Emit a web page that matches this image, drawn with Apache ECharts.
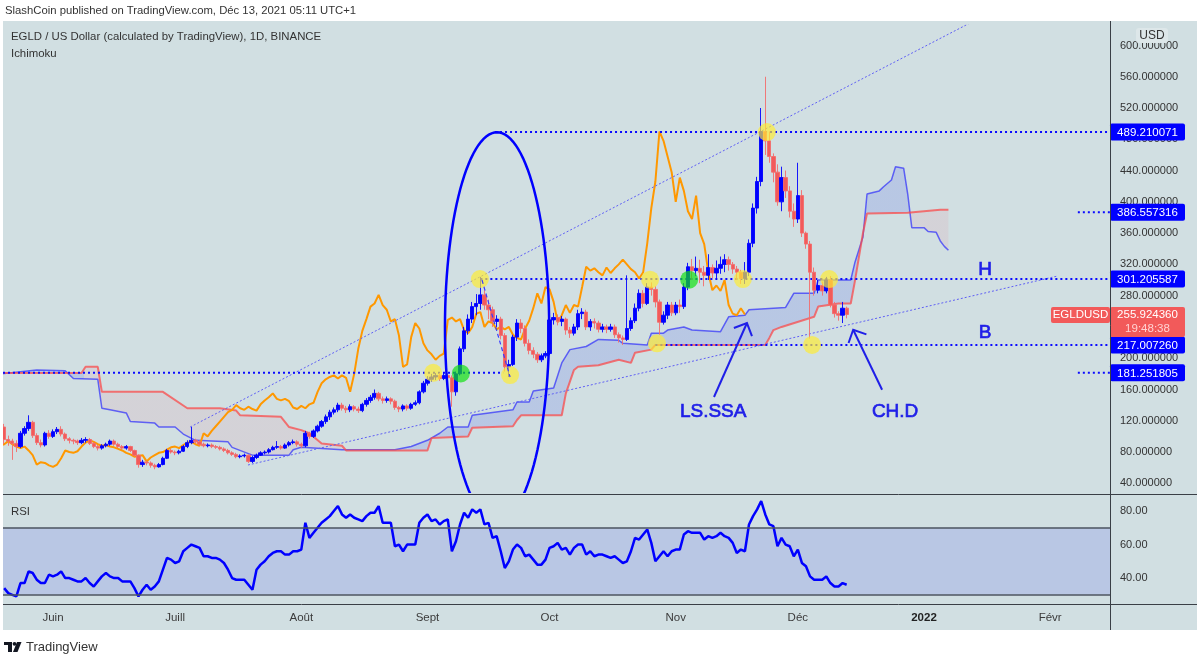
<!DOCTYPE html>
<html>
<head>
<meta charset="utf-8">
<title>EGLD / US Dollar - 1D</title>
<script src="https://cdn.jsdelivr.net/npm/echarts@6.0.0/dist/echarts.min.js"></script>
<style>
  html, body { margin: 0; padding: 0; background: #fff; }
  #chart { width: 1200px; height: 658px; }
</style>
</head>
<body>
<div id="chart"></div>
<script>
// day index: 0 = 1 June 2021, first candle is 20 May 2021
const firstDay = -12;

// daily candles [open, close, low, high]
const candles = [
  [112,96,90,116],[96,94,88,101],[94,91,70,97],[91,87,80,95],[87,104,85,107],[104,110,101,113],[110,118,107,127],[118,101,98,120],[101,92,89,104],[92,89,86,96],
  [89,104,87,106],[104,100,97,108],[100,106,98,109],[106,109,103,112],[109,103,100,113],[103,97,94,105],[97,95,91,99],[95,94,90,97],[94,92,89,96],[92,95,90,98],
  [95,96,92,99],[96,91,89,98],[91,87,85,93],[87,85,82,89],[85,88,83,90],[88,90,86,92],[90,94,88,96],[94,90,88,96],[90,87,85,92],[87,85,83,89],
  [85,87,83,89],[87,82,80,88],[82,76,74,83],[76,64,60,77],[64,67,61,70],[67,66,63,69],[66,63,60,68],[63,61,58,65],[61,64,60,66],[64,72,63,74],
  [72,82,71,84],[82,80,78,84],[80,79,76,82],[79,81,77,83],[81,87,80,89],[87,92,85,95],[92,95,90,112],[95,93,91,97],[93,90,88,95],[90,88,86,92],
  [88,89,86,91],[89,87,85,91],[87,86,84,89],[86,84,82,88],[84,82,80,86],[82,79,77,84],[79,77,75,81],[77,74,72,79],[74,75,72,77],[75,76,73,78],
  [76,68,66,77],[68,73,66,75],[73,76,71,78],[76,79,75,81],[79,80,77,82],[80,83,78,85],[83,86,82,88],[86,87,84,94],[87,85,83,89],[85,89,84,91],
  [89,92,87,94],[92,93,90,96],[93,90,87,95],[90,88,85,92],[88,104,86,107],[104,100,97,106],[100,107,98,109],[107,113,105,115],[113,119,111,121],[119,125,116,128],
  [125,131,121,134],[131,134,128,137],[134,140,131,143],[140,136,133,143],[136,134,130,139],[134,138,131,141],[138,135,132,140],[135,133,130,138],[133,141,131,143],[141,146,138,149],
  [146,150,143,153],[150,155,147,160],[155,148,145,157],[148,146,142,151],[146,148,143,151],[148,145,141,150],[145,137,134,147],[137,135,131,139],[135,139,132,141],[139,136,133,141],
  [136,141,134,143],[141,143,139,146],[143,157,141,159],[157,168,155,171],[168,173,165,177],[173,176,170,180],[176,178,172,181],[178,174,171,181],[174,178,172,182],[178,175,172,181],
  [175,157,138,178],[157,180,152,183],[180,212,178,215],[212,235,208,240],[235,250,230,256],[250,266,245,272],[266,270,255,282],[270,281,262,304],[281,268,262,287],[268,262,250,275],
  [262,247,240,266],[247,250,240,255],[250,229,224,253],[229,189,183,232],[189,192,176,198],[192,227,190,230],[227,245,222,250],[245,238,232,250],[238,219,215,242],[219,210,205,224],
  [210,205,200,214],[205,198,194,208],[198,203,195,206],[203,206,200,209],[206,249,204,253],[249,252,243,258],[252,247,242,256],[247,250,241,254],[250,236,230,252],[236,232,226,240],
  [232,240,229,244],[240,257,236,262],[257,259,250,264],[259,240,236,262],[240,247,235,250],[247,245,238,251],[245,237,233,248],[237,240,233,244],[240,237,232,243],[237,240,234,244],
  [240,230,226,243],[230,226,220,233],[226,224,217,229],[224,238,222,306],[238,248,235,252],[248,264,245,270],[264,283,260,288],[283,270,265,287],[270,291,268,296],[291,288,280,297],
  [288,272,265,292],[272,246,230,275],[246,255,243,260],[255,268,250,272],[268,258,254,272],[258,268,255,272],[268,266,258,275],[266,291,263,296],[291,317,287,322],[317,312,300,327],
  [312,315,305,330],[315,310,296,326],[310,306,292,318],[306,316,300,333],[316,309,302,320],[309,315,300,325],[315,320,308,330],[320,326,310,333],[326,320,312,330],[320,314,308,323],
  [314,310,300,318],[310,302,295,313],[302,310,295,323],[310,347,305,352],[347,392,342,398],[392,426,385,432],[426,490,420,520],[490,478,460,560],[478,458,450,490],[458,438,425,462],
  [438,400,395,448],[400,431,388,445],[431,414,405,440],[414,388,380,420],[388,378,368,398],[378,408,373,450],[408,360,355,415],[360,346,340,362],[346,310,225,350],[310,287,280,316],
  [287,293,283,300],[293,286,280,298],[286,300,283,304],[300,268,265,305],[268,257,252,272],[257,255,248,260],[255,264,245,272],[264,255.92436,251,266]
];

// RSI, one value per candle
const rsi = [
  34,31,30,29,37,37,44,43,39,37, 37,42,41,42,44,40,40,39,38,38,
  40,37,35,38,41,43,41,40,40,38, 38,38,34,29,33,36,33,35,38,45,
  52,51,49,50,56,58,60,59,58,53, 53,52,52,51,49,45,40,39,39,39,
  36,33,45,48,50,53,55,56,56,54, 54,56,56,57,73,64,67,70,73,75,
  77,80,83,78,76,78,76,75,74,77, 79,79,83,73,73,73,59,60,56,60,
  60,60,73,76,78,74,75,72,74,75, 56,62,72,79,76,81,79,81,72,73,
  64,65,56,46,50,57,60,58,53,54, 51,48,48,51,58,59,61,57,58,54,
  58,60,60,54,56,53,54,54,53,52, 53,51,49,50,56,64,63,66,69,61,
  50,53,56,53,56,57,57,66,68,67, 67,67,63,65,64,65,67,65,64,61,
  55,57,56,72,77,81,86,78,72,71, 59,64,60,59,53,57,49,47,41,39,
  39,39,41,37,35,35,37,36
];

// Ichimoku leading spans as drawn (already pushed 25 bars ahead), [day, price]
const senkouA = [
  [-13,180],[-4,185],[3,184],[5,174],[11,173],[12,136],[14,134],[18,130],[19,119],[25,117],[26,112],[30,112],
  [32,103],[35,95],[43,93],[44,86],[48,78],[49,76],[58,76],[59,83],[61,86],[68,84],[71,83],[84,83],[88,87],
  [92,95],[95,104],[97,112],[102,112],[103,127],[113,134],[114,144],[117,144],[118,158],[123,162],[125,194],
  [127,211],[131,215],[134,224],[139,223],[140,219],[146,217],[147,232],[150,232],[151,236],[155,240],[157,236],
  [164,234],[166,253],[170,255],[171,262],[180,265],[181,274],[182,283],[187,283],[188,300],[196,300],[197,322],
  [199,355],[200,410],[203,414],[204,419],[206,428],[207,445],[209,443],[210,410],[211,367],[214,367],[215,362],
  [217,361],[218,350],[219,343],[220,338]
];
const senkouB = [
  [-13,181],[7,181],[8,189],[11,189],[12,157],[27,157],[33,136],[41,136],[45,133],[46,127],[56,125],[58,112],
  [61,108],[63,104],[66,91],[71,88],[72,82],[92,82],[93,98],[102,100],[103,111],[113,113],[114,121],[115,127],
  [125,127],[126,155],[128,185],[129,189],[134,191],[139,198],[142,194],[143,207],[147,211],[148,217],[175,217],
  [176,226],[177,236],[179,240],[187,253],[188,266],[193,270],[196,270],[197,298],[199,360],[200,385],[210,386],
  [214,388],[218,390],[220,390]
];
const lagShift = 25;                        // lagging span = close drawn 25 bars back
const cloudUpRanges = [[-11, 7.5], [71.8, 210.5]];  // where span A is above span B

const monthDays = [0, 30, 61, 92, 122, 153, 183, 214, 245];
const monthNames = ['Juin', 'Juill', 'Août', 'Sept', 'Oct', 'Nov', 'Déc', '2022', 'Févr'];
const priceTicks = [40, 80, 120, 160, 200, 240, 280, 320, 360, 400, 440, 480, 520, 560, 600];
const rsiTicks = [40, 60, 80];

// horizontal levels drawn on the chart and the day where each dotted line starts (null = price scale)
const levelPrices = [489.210071, 386.557316, 301.205587, 217.007260, 181.251805];
const levelSpans = [[[108.6, null]], [[251.8, null]], [[105, null]], [[148, null]], [[-13, 110.6], [251.8, null]]];

const yellowDots = [[93.4,181.3],[104.9,301.2],[112.3,178.5],[146.7,300.5],[148.4,219],[169.5,301.2],[175.4,489.2],[186.5,217],[190.7,301.2]];
const greenDots = [[100.2,180.5],[156.3,300.5]];
const trendUpper = [[33.7,112],[226.5,632]];
const trendLower = [[47.9,63.4],[246.7,305]];

// hand drawings
const ellipseMark = { center: [109.1, 240], rx: 12.8, ry: 249 };
const dashedMark = [[105.4, 300], [112.3, 176]];
const arrowMarks = [{ from: [162.4, 150.4], to: [170.5, 245] }, { from: [203.7, 159.7], to: [196.6, 236.4] }];
const noteMarks = [['LS.SSA', 162.2, 131.2], ['CH.D', 206.9, 131.2], ['H', 229, 312.8], ['B', 229, 232.3]];

const X_MIN = -12.29, X_MAX = 259.7;
const UP = '#0000ff', DOWN = '#f25a5a', INK = '#1f1fe8';
const FONT = '"Liberation Sans", Arial, sans-serif';
const last = candles.length - 1;
const lastDay = firstDay + last;
const lastClose = candles[last][1];

const chart = echarts.init(document.getElementById('chart'));

function cloudItem(params, api) {
  const top = senkouA.map(p => api.coord(p));
  const bottom = senkouB.map(p => api.coord(p)).reverse();
  const x0 = api.coord([X_MIN, 0])[0], x1 = api.coord([X_MAX, 0])[0];
  const frac = d => Math.min(1, Math.max(0, (api.coord([d, 0])[0] - x0) / (x1 - x0)));
  const grey = 'rgba(216, 193, 201, 0.42)', bluish = 'rgba(85, 105, 235, 0.2)';
  const stops = [{ offset: 0, color: grey }];
  cloudUpRanges.forEach(([a, b]) => {
    stops.push({ offset: frac(a), color: grey }, { offset: frac(a), color: bluish },
               { offset: frac(b), color: bluish }, { offset: frac(b), color: grey });
  });
  stops.push({ offset: 1, color: grey });
  return {
    type: 'polygon',
    shape: { points: top.concat(bottom) },
    style: { fill: new echarts.graphic.LinearGradient(x0, 0, x1, 0, stops, true) }
  };
}

function drawingsItem(params, api) {
  const kids = [];
  // ellipse round the september pump
  const c = api.coord(ellipseMark.center);
  const sz = api.size([ellipseMark.rx, ellipseMark.ry]);
  const pts = [];
  for (let k = 0; k <= 120; k++) {
    const t = k / 120 * Math.PI * 2;
    pts.push([c[0] + sz[0] * Math.cos(t), c[1] + sz[1] * Math.sin(t)]);
  }
  kids.push({ type: 'polyline', shape: { points: pts }, style: { stroke: UP, lineWidth: 2.5, fill: null } });
  const d0 = api.coord(dashedMark[0]), d1 = api.coord(dashedMark[1]);
  kids.push({ type: 'line', shape: { x1: d0[0], y1: d0[1], x2: d1[0], y2: d1[1] },
    style: { stroke: '#3a3aff', lineWidth: 1.2, lineDash: [4, 3] } });
  arrowMarks.forEach(a => {
    const p0 = api.coord(a.from), p1 = api.coord(a.to);
    const ang = Math.atan2(p0[1] - p1[1], p0[0] - p1[0]);
    const L = 14, s = Math.PI / 4;
    const w1 = [p1[0] + L * Math.cos(ang + s), p1[1] + L * Math.sin(ang + s)];
    const w2 = [p1[0] + L * Math.cos(ang - s), p1[1] + L * Math.sin(ang - s)];
    kids.push({ type: 'line', shape: { x1: p0[0], y1: p0[1], x2: p1[0], y2: p1[1] }, style: { stroke: INK, lineWidth: 2 } });
    kids.push({ type: 'polyline', shape: { points: [w1, p1, w2] }, style: { stroke: INK, lineWidth: 2, fill: null } });
  });
  noteMarks.forEach(([t, d, p]) => {
    const q = api.coord([d, p]);
    kids.push({ type: 'text', x: q[0], y: q[1],
      style: { text: t, fill: INK, stroke: INK, lineWidth: 0.7, font: '19px ' + FONT, align: 'center', verticalAlign: 'middle' } });
  });
  return { type: 'group', children: kids };
}

function levelItem(params, api) {
  const i = params.dataIndex, p = levelPrices[i];
  const edge = api.coord([X_MAX, p]);
  const kids = [];
  levelSpans[i].forEach(([a, b]) => {
    const s = api.coord([Math.max(a, X_MIN), p]);
    const e = b == null ? edge : api.coord([b, p]);
    kids.push({ type: 'line', shape: { x1: s[0], y1: s[1], x2: e[0], y2: e[1] },
      style: { stroke: '#0a0aff', lineWidth: 2, lineDash: [2, 3] } });
  });
  kids.push({ type: 'rect', shape: { x: edge[0], y: edge[1] - 8.5, width: 75, height: 17, r: 2 }, style: { fill: UP } });
  kids.push({ type: 'text', x: edge[0] + 37.5, y: edge[1] + 0.5,
    style: { text: p.toFixed(6), fill: '#fff', font: '11.5px ' + FONT, align: 'center', verticalAlign: 'middle' } });
  return { type: 'group', children: kids };
}

function lastPriceItem(params, api) {
  const q = api.coord([X_MAX, api.value(1)]);
  return { type: 'group', children: [
    { type: 'rect', shape: { x: q[0], y: q[1] - 7.5, width: 75, height: 30, r: 2 }, style: { fill: DOWN } },
    { type: 'text', x: q[0] + 37.5, y: q[1] + 0.5, style: { text: api.value(1).toFixed(6), fill: '#fff', font: '11.5px ' + FONT, align: 'center', verticalAlign: 'middle' } },
    { type: 'text', x: q[0] + 37.5, y: q[1] + 14.5, style: { text: '19:48:38', fill: '#ffd2d2', font: '11.5px ' + FONT, align: 'center', verticalAlign: 'middle' } },
    { type: 'rect', shape: { x: q[0] - 59, y: q[1] - 7.5, width: 59, height: 16, r: 2 }, style: { fill: DOWN } },
    { type: 'text', x: q[0] - 29.5, y: q[1] + 0.5, style: { text: 'EGLDUSD', fill: '#fff', font: '11.5px ' + FONT, align: 'center', verticalAlign: 'middle' } }
  ] };
}

const option = {
  animation: false,
  backgroundColor: '#d1dfe2',
  grid: [
    { left: 3, top: 25, width: 1107, height: 468 },
    { left: 3, top: 496, width: 1107, height: 108 }
  ],
  xAxis: [
    { type: 'value', gridIndex: 0, min: X_MIN, max: X_MAX, show: false },
    { type: 'value', gridIndex: 1, min: X_MIN, max: X_MAX,
      axisLine: { show: false }, axisTick: { show: false }, splitLine: { show: false },
      axisLabel: {
        customValues: monthDays, margin: 8, color: '#3b3b3b', fontSize: 11.5, fontFamily: FONT,
        formatter: v => { const n = monthNames[monthDays.indexOf(v)]; return n === '2022' ? '{b|2022}' : n; },
        rich: { b: { fontWeight: 'bold', fontSize: 11.5, fontFamily: FONT, color: '#222' } }
      } }
  ],
  yAxis: [
    { type: 'value', gridIndex: 0, position: 'right', min: 27.6, max: 626.2,
      axisLine: { show: false }, axisTick: { show: false }, splitLine: { show: false },
      axisLabel: { customValues: priceTicks, margin: 10, color: '#333', fontSize: 11, fontFamily: FONT, formatter: v => v.toFixed(6) } },
    { type: 'value', gridIndex: 1, position: 'right', min: 24.5, max: 89,
      axisLine: { show: false }, axisTick: { show: false }, splitLine: { show: false },
      axisLabel: { customValues: rsiTicks, margin: 10, color: '#333', fontSize: 11, fontFamily: FONT, formatter: v => v.toFixed(2) } }
  ],
  series: [
    { type: 'custom', name: 'Kumo', xAxisIndex: 0, yAxisIndex: 0, clip: true, silent: true, z: 1,
      data: [[0, 100]], renderItem: cloudItem },
    { type: 'line', name: 'Senkou A', xAxisIndex: 0, yAxisIndex: 0, data: senkouA, showSymbol: false, silent: true, z: 2,
      lineStyle: { color: 'rgba(55, 55, 250, 0.75)', width: 1.5 } },
    { type: 'line', name: 'Senkou B', xAxisIndex: 0, yAxisIndex: 0, data: senkouB, showSymbol: false, silent: true, z: 2,
      lineStyle: { color: 'rgba(250, 75, 75, 0.75)', width: 2 } },
    { type: 'line', name: 'Lagging', xAxisIndex: 0, yAxisIndex: 0, showSymbol: false, silent: true, z: 3,
      data: candles.map((c, i) => [firstDay + i - lagShift, c[1]]),
      lineStyle: { color: '#ff9800', width: 2 } },
    { type: 'line', xAxisIndex: 0, yAxisIndex: 0, data: trendUpper, showSymbol: false, silent: true, z: 3,
      lineStyle: { color: '#5f5ff5', width: 1, type: [2, 2] } },
    { type: 'line', xAxisIndex: 0, yAxisIndex: 0, data: trendLower, showSymbol: false, silent: true, z: 3,
      lineStyle: { color: '#5f5ff5', width: 1, type: [2, 2] } },
    { type: 'custom', name: 'levels', xAxisIndex: 0, yAxisIndex: 0, clip: false, silent: true, z: 4,
      data: levelPrices.map((p, i) => [i, p]), renderItem: levelItem },
    { type: 'candlestick', name: 'EGLDUSD', xAxisIndex: 0, yAxisIndex: 0, z: 5,
      data: candles.map((c, i) => [firstDay + i, c[0], c[1], c[2], c[3]]),
      encode: { x: 0, y: [1, 2, 3, 4] },
      barWidth: 3.8,
      itemStyle: { color: UP, color0: DOWN, borderColor: UP, borderColor0: '#f36c6c', borderWidth: 0.9 } },
    { type: 'scatter', xAxisIndex: 0, yAxisIndex: 0, data: yellowDots, symbolSize: 18, silent: true, z: 6,
      itemStyle: { color: 'rgba(255, 236, 50, 0.85)' } },
    { type: 'scatter', xAxisIndex: 0, yAxisIndex: 0, data: greenDots, symbolSize: 18, silent: true, z: 6,
      itemStyle: { color: 'rgba(15, 225, 15, 0.85)' } },
    { type: 'custom', name: 'drawings', xAxisIndex: 0, yAxisIndex: 0, clip: true, silent: true, z: 7,
      data: [[0, 100]], renderItem: drawingsItem },
    { type: 'custom', name: 'last', xAxisIndex: 0, yAxisIndex: 0, clip: false, silent: true, z: 8,
      data: [[lastDay, lastClose]], renderItem: lastPriceItem },
    { type: 'line', name: 'RSI', xAxisIndex: 1, yAxisIndex: 1, showSymbol: false, z: 3,
      data: rsi.map((v, i) => [firstDay + i, v]),
      lineStyle: { color: UP, width: 2.5 },
      markArea: { silent: true, itemStyle: { color: '#b9c7e4' }, data: [[{ yAxis: 30 }, { yAxis: 70 }]] },
      markLine: { silent: true, symbol: 'none', label: { show: false },
        lineStyle: { color: '#4c5560', width: 1.5, type: 'solid' }, data: [{ yAxis: 70 }, { yAxis: 30 }] } }
  ],
  graphic: [
    { type: 'rect', z: 50, shape: { x: 0, y: 0, width: 1200, height: 21 }, style: { fill: '#fff' } },
    { type: 'rect', z: 50, shape: { x: 0, y: 630, width: 1200, height: 28 }, style: { fill: '#fff' } },
    { type: 'rect', z: 50, shape: { x: 0, y: 0, width: 3, height: 658 }, style: { fill: '#fff' } },
    { type: 'rect', z: 50, shape: { x: 1197, y: 0, width: 3, height: 658 }, style: { fill: '#fff' } },
    { type: 'line', z: 51, shape: { x1: 3, y1: 494.5, x2: 1197, y2: 494.5 }, style: { stroke: '#3a3f46', lineWidth: 1 } },
    { type: 'line', z: 51, shape: { x1: 3, y1: 604.5, x2: 1197, y2: 604.5 }, style: { stroke: '#3a3f46', lineWidth: 1 } },
    { type: 'line', z: 51, shape: { x1: 1110.5, y1: 21, x2: 1110.5, y2: 630 }, style: { stroke: '#3a3f46', lineWidth: 1 } },
    { type: 'text', z: 52, x: 5, y: 11, style: { text: 'SlashCoin published on TradingView.com, Déc 13, 2021 05:11 UTC+1', fill: '#333', font: '11.3px ' + FONT, verticalAlign: 'middle' } },
    { type: 'text', z: 52, x: 11, y: 37, style: { text: 'EGLD / US Dollar (calculated by TradingView), 1D, BINANCE', fill: '#333', font: '11.4px ' + FONT, verticalAlign: 'middle' } },
    { type: 'text', z: 52, x: 11, y: 54, style: { text: 'Ichimoku', fill: '#333', font: '11.4px ' + FONT, verticalAlign: 'middle' } },
    { type: 'text', z: 52, x: 11, y: 512, style: { text: 'RSI', fill: '#333', font: '11.4px ' + FONT, verticalAlign: 'middle' } },
    { type: 'rect', z: 52, shape: { x: 1136, y: 28, width: 32, height: 15, r: 3 }, style: { fill: '#dde7e9' } },
    { type: 'text', z: 53, x: 1152, y: 36, style: { text: 'USD', fill: '#333', font: '12px ' + FONT, align: 'center', verticalAlign: 'middle' } },
    // TradingView logo
    { type: 'rect', z: 52, shape: { x: 4, y: 642, width: 8, height: 3 }, style: { fill: '#131722' } },
    { type: 'rect', z: 52, shape: { x: 8, y: 642, width: 4, height: 10 }, style: { fill: '#131722' } },
    { type: 'circle', z: 52, shape: { cx: 14.5, cy: 643.8, r: 1.9 }, style: { fill: '#131722' } },
    { type: 'polygon', z: 52, shape: { points: [[17, 642], [21.5, 642], [17.5, 652], [13, 652]] }, style: { fill: '#131722' } },
    { type: 'text', z: 52, x: 26, y: 647.5, style: { text: 'TradingView', fill: '#333', font: '13px ' + FONT, verticalAlign: 'middle' } }
  ]
};

chart.setOption(option);
</script>
</body>
</html>
